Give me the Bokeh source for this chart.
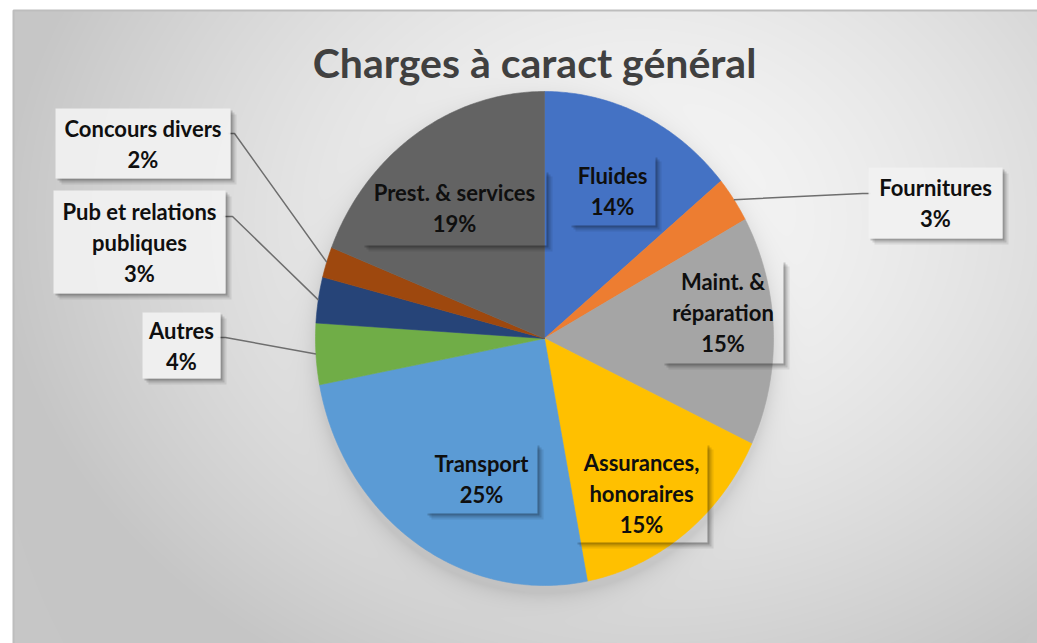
import numpy as np
from bokeh.plotting import figure
from bokeh.models import Range1d
from bokeh.core.properties import value
from bokeh.embed import file_html
from bokeh.resources import INLINE

# ---------------- data ----------------
title_text = "Charges à caract général"
categories = ["Fluides", "Fournitures", "Maint. & réparation", "Assurances, honoraires",
              "Transport", "Autres", "Pub et relations publiques", "Concours divers",
              "Prest. & services"]
shares = [14, 3, 15, 15, 25, 4, 3, 2, 19]
colors = ["#4472C4", "#ED7D31", "#A5A5A5", "#FFC000", "#5B9BD5", "#70AD47",
          "#264478", "#9E480E", "#636363"]

# ---------------- layout (pixels, y measured from top) ----------------
W, H = 1037, 643
CX, CY, RX, RY = 544, 338, 229, 247
FONT = "Lato"

def Y(y):
    return H - y

wrap = {"Maint. & réparation": ["Maint. &", "réparation"],
        "Assurances, honoraires": ["Assurances,", "honoraires"],
        "Pub et relations publiques": ["Pub et relations", "publiques"]}

# box: left, top, right, bottom ; inside: transparent box on slice
label_boxes = {
    "Fluides": ((569, 155, 655, 225), True),
    "Fournitures": ((868, 167, 1002, 238), False),
    "Maint. & réparation": ((662, 260, 783, 363), True),
    "Assurances, honoraires": ((575, 443, 707, 542), True),
    "Transport": ((425, 443, 537, 513), True),
    "Autres": ((142, 312, 220, 378), False),
    "Pub et relations publiques": ((53, 190, 225, 293), False),
    "Concours divers": ((55, 108, 230, 178), False),
    "Prest. & services": ((362, 170, 546, 245), True),
}
# leader line start points near the boxes (px)
leader_start = {
    "Fournitures": [(870, 193), (862, 193)],
    "Autres": [(217, 337), (225, 337)],
    "Pub et relations publiques": [(223, 216), (232, 216)],
    "Concours divers": [(228, 133), (234, 133)],
}

p = figure(width=W, height=H, x_range=Range1d(0, W), y_range=Range1d(0, H),
           output_backend="svg", toolbar_location=None, min_border=0)
p.axis.visible = False
p.grid.visible = False
p.outline_line_color = None
p.background_fill_color = "white"
p.border_fill_color = "white"

# ---------------- background gradient with pie shadow ----------------
bx0, by0 = 13, 10
bw, bh = W - bx0, H - by0
xs = bx0 + np.arange(bw) + 0.5
ys = by0 + np.arange(bh) + 0.5
XX, YY = np.meshgrid(xs, ys)
d = np.sqrt(((XX - 640) / 640.0) ** 2 + ((YY - 220) / 520.0) ** 2)
lum = 247 - (247 - 198) * np.clip(d, 0, 1) ** 1.5
e = np.sqrt(((XX - CX) / RX) ** 2 + ((YY - (CY + 8)) / RY) ** 2)
dist = np.clip((e - 1) * RY, 0, None)
lum = lum - 22 * np.exp(-dist / 10.0)
lum = np.clip(lum, 0, 255).astype(np.uint8)[::-1]
img = np.empty((bh, bw), dtype=np.uint32)
view = img.view(dtype=np.uint8).reshape((bh, bw, 4))
view[..., 0] = lum
view[..., 1] = lum
view[..., 2] = lum
view[..., 3] = 255
p.image_rgba(image=[img], x=bx0, y=0, dw=bw, dh=bh)
p.line([bx0, bx0, W], [0, Y(by0), Y(by0)], line_color="#bdbdbd", line_width=2)

# ---------------- pie slices ----------------
tot = float(sum(shares))
cum = np.concatenate([[0.0], np.cumsum(shares)]) / tot
pxs, pys = [], []
for a0, a1 in zip(cum[:-1], cum[1:]):
    t = np.linspace(a0, a1, max(int((a1 - a0) * 600), 10)) * 2 * np.pi
    pxs.append([CX] + list(CX + RX * np.sin(t)))
    pys.append([Y(CY)] + list(Y(CY) + RY * np.cos(t)))
p.patches(pxs, pys, fill_color=colors, line_color=colors, line_width=0.6)

# ---------------- leader lines ----------------
mid = (cum[:-1] + cum[1:]) / 2 * 2 * np.pi
for cat, pts in leader_start.items():
    i = categories.index(cat)
    ax = CX + RX * np.sin(mid[i])
    ay = CY - RY * np.cos(mid[i])
    lx = [pt[0] for pt in pts] + [ax]
    ly = [Y(pt[1]) for pt in pts] + [Y(ay)]
    p.line(lx, ly, line_color="#6e6e6e", line_width=1.5)

# ---------------- label boxes & shadows ----------------
for cat in categories:
    (l, t, r, b), inside = label_boxes[cat]
    for s, a in ((6, 0.08), (4, 0.12), (2, 0.18)):
        p.quad(left=[r, l + s], right=[r + s, r], top=[Y(t + s), Y(b)],
               bottom=[Y(b + s), Y(b + s)], fill_color="black", fill_alpha=a, line_color=None)
    if not inside:
        p.quad(left=[l], right=[r], top=[Y(t)], bottom=[Y(b)],
               fill_color="#f1f1f1", fill_alpha=0.92, line_color=None)

# ---------------- label texts ----------------
LS = 31
tx, ty, tt = [], [], []
for cat, sh in zip(categories, shares):
    (l, t, r, b), inside = label_boxes[cat]
    lines = wrap.get(cat, [cat]) + [f"{sh}%"]
    cyb = (t + b) / 2.0
    n = len(lines)
    for k, s in enumerate(lines):
        tx.append((l + r) / 2.0)
        ty.append(Y(cyb + (k - (n - 1) / 2.0) * LS))
        tt.append(s)
p.text(x=tx, y=ty, text=tt, text_align="center", text_baseline="middle",
       text_font=value(FONT), text_font_style="bold", text_font_size="22px",
       text_color="#0f0f0f")

# ---------------- title ----------------
p.text(x=[534], y=[Y(62)], text=[title_text], text_align="center", text_baseline="middle",
       text_font=value(FONT), text_font_style="bold", text_font_size="41px",
       text_color="#404040")

open("out.html", "w").write(file_html(p, INLINE))
